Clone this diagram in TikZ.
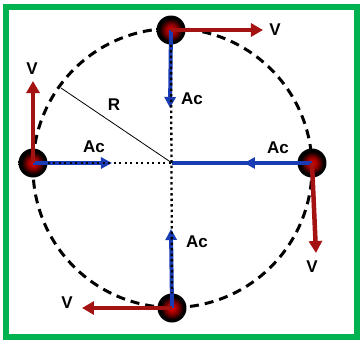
\documentclass[tikz,border=0pt]{standalone}
\usepackage{fontspec}
\setmainfont{Liberation Sans}
\usetikzlibrary{arrows.meta}
\definecolor{vred}{RGB}{165,18,18}
\definecolor{ablue}{RGB}{25,60,180}
\definecolor{framegreen}{RGB}{0,178,80}
\pgfdeclareradialshading{ballshade}{\pgfpoint{0bp}{0bp}}{color(0bp)=(red!90!black); color(9bp)=(red!60!black); color(20bp)=(black); color(50bp)=(black)}
\begin{document}
\begin{tikzpicture}[x=1pt,y=-1pt,
  lbl/.style={font=\fontsize{17}{20}\selectfont\bfseries, inner sep=0pt},
  ball/.style={circle, minimum size=29pt, inner sep=0pt, shading=ballshade},
  vel/.style={vred, line width=4.5pt, -{Triangle[length=12pt,width=13pt]}},
  acc/.style={ablue, line width=4pt, -{Triangle[length=11pt,width=11pt]}},
  dotline/.style={black, line width=2.3pt, dash pattern=on 2.3pt off 3.2pt},
  orbit/.style={black, line width=3pt, dash pattern=on 9pt off 6pt}]
\useasboundingbox (0,0) rectangle (360,341);
\fill[white] (0,0) rectangle (360,341);
\draw[framegreen, line width=6pt] (6.5,6.5) rectangle (357.5,337);
% centre and orbit
\coordinate (O) at (172,163);
\coordinate (OC) at (172.5,168);
\draw[orbit] (OC) circle[radius=139.5pt];
% radius R
\coordinate (Rend) at (61,88);
\draw[black, line width=0.8pt] (O) -- (Rend);
\node[lbl] (R) at (114,105) {R};
% balls
\node[ball] (top) at (171,30) {};
\node[ball] (left) at (33,163) {};
\node[ball] (right) at (312,163) {};
\node[ball] (bot) at (172,308) {};
% arrow tips
\coordinate (ttip) at (170,108);
\coordinate (btip) at (171,229);
\coordinate (ltip) at (112,163);
\coordinate (rtip) at (244,163);
% acceleration arrows
\draw[acc] (top.center) -- (ttip);
\draw[acc] (left.center) -- (ltip);
\draw[ablue, line width=4pt] (right.center) -- (O);
\draw[acc] (right.center) -- (rtip);
\draw[acc] (bot.center) -- (btip);
% dotted diameters
\draw[dotline, xshift=1.5pt] (top.south) -- (bot.north);
\draw[dotline, yshift=-1pt] (left.east) -- (O);
% velocity arrows
\coordinate (tv) at (263,30);
\draw[vel] (top.center) -- (tv);
\coordinate (lv) at (33,81);
\draw[vel] (left.center) -- (lv);
\coordinate (rv) at (316,253);
\draw[vel] (right.center) -- (rv);
\coordinate (bv) at (82,308);
\draw[vel] (bot.center) -- (bv);
% labels
\node[lbl] (tV) at (275,30) {V};
\node[lbl] (tA) at (192,99) {Ac};
\node[lbl] (lV) at (32,69) {V};
\node[lbl] (lA) at (94,147) {Ac};
\node[lbl] (rA) at (278,148) {Ac};
\node[lbl] (rV) at (312,267) {V};
\node[lbl] (bV) at (67,303) {V};
\node[lbl] (bA) at (197,242) {Ac};
\end{tikzpicture}
\end{document}
